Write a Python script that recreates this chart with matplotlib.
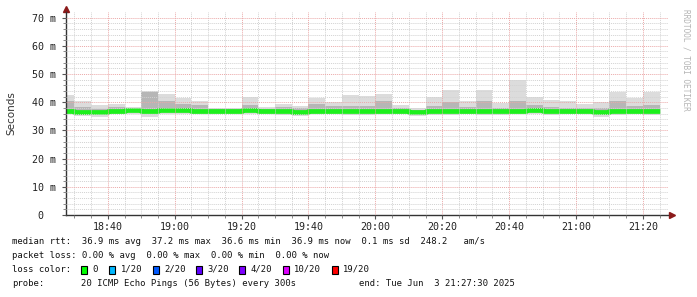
import numpy as np
import matplotlib
matplotlib.use("Agg")
import matplotlib.pyplot as plt
from matplotlib.patches import Rectangle

# bin start times in minutes after 18:00 (5 minute steps), last bin has no data yet
bin_start = list(range(25, 210, 5))

# ping statistics per 5 min bin (ms)
ping_max = [42.4, 40.3, 38.9, 39.5, 38.3, 44.1, 42.9, 41.5, 40.5, 37.9, 37.9, 41.8,
            38.2, 39.5, 38.8, 41.5, 40.1, 42.4, 42.1, 42.9, 39.1, 37.9, 41.8, 44.2,
            40.3, 44.2, 39.7, 47.9, 41.8, 40.7, 40.3, 39.5, 40.0, 43.8, 41.5, 43.8, np.nan]
ping_upper = [40.3, 38.2, 37.6, 38.2, 37.5, 43.8, 40.5, 39.4, 38.9, 37.5, 37.5, 39.0,
              37.5, 38.2, 37.8, 39.5, 38.5, 38.5, 38.8, 40.3, 38.0, 37.3, 38.5, 40.0,
              38.2, 40.3, 38.0, 40.3, 39.0, 38.3, 38.0, 37.8, 38.0, 40.3, 38.8, 39.0, np.nan]
ping_min = [36.0, 35.2, 34.6, 35.8, 36.0, 34.8, 35.8, 36.0, 36.0, 36.0, 36.0, 36.0,
            35.8, 35.5, 35.2, 35.8, 35.8, 35.5, 35.6, 35.8, 35.8, 35.2, 35.6, 35.6,
            35.8, 35.5, 35.6, 35.8, 35.8, 35.6, 35.8, 35.8, 34.6, 35.6, 35.8, 35.6, np.nan]
median = [36.8, 36.7, 36.5, 37.0, 37.1, 36.9, 37.1, 37.2, 37.0, 37.0, 37.0, 37.1,
          36.9, 36.9, 36.7, 37.0, 37.0, 36.9, 36.9, 37.0, 36.9, 36.7, 36.9, 36.9,
          36.9, 36.9, 36.8, 37.0, 37.1, 36.9, 36.8, 36.8, 36.7, 36.9, 37.0, 36.9, np.nan]

xtick_pos = [40, 60, 80, 100, 120, 140, 160, 180, 200]
xtick_lab = ["18:40", "19:00", "19:20", "19:40", "20:00", "20:20", "20:40", "21:00", "21:20"]
ytick_pos = [0, 10, 20, 30, 40, 50, 60, 70]
ytick_lab = ["0  ", "10 m", "20 m", "30 m", "40 m", "50 m", "60 m", "70 m"]

loss_labels = ["0", "1/20", "2/20", "3/20", "4/20", "10/20", "19/20"]
loss_colors = ["#00ff00", "#00b8ff", "#0059ff", "#5e00ff", "#7e00ff", "#dd00ff", "#ff0000"]

W, H = 697, 297
mono = "DejaVu Sans Mono"

fig = plt.figure(figsize=(W / 100, H / 100), dpi=100)
fig.patch.set_facecolor("white")
ax = fig.add_axes([66 / W, 82 / H, 602 / W, 203 / H])

edges = np.array(bin_start + [bin_start[-1] + 5], dtype=float)
xs = np.repeat(edges, 2)[1:-1]


def step(v):
    return np.repeat(np.asarray(v, dtype=float), 2)


ax.fill_between(xs, step(ping_min), step(ping_max), color="#dcdcdc", lw=0)
ax.fill_between(xs, step(median), step(ping_upper), color="#b6b6b6", lw=0)
ax.plot(xs, step(median), color="#1cf01c", lw=3.4, solid_capstyle="butt")

ax.set_xlim(27.5, 207.5)
ax.set_ylim(0, 72)

ax.set_xticks(xtick_pos)
ax.set_xticklabels(xtick_lab, family=mono, fontsize=7.2, color="#222222")
ax.set_xticks(np.arange(30, 210, 5), minor=True)
ax.set_yticks(ytick_pos)
ax.set_yticklabels(ytick_lab, family=mono, fontsize=7.2, color="#222222")
ax.set_yticks(np.arange(0, 72, 2), minor=True)
ax.tick_params(which="major", length=3, width=0.8, color="#555555", pad=2)
ax.tick_params(which="minor", length=2, width=0.6, color="#777777")
ax.tick_params(axis="y", which="major", pad=4)

ax.grid(which="minor", color="#d2d2d2", lw=0.7, linestyle=(0, (1, 1)))
ax.grid(which="major", color="#eba8a8", lw=0.7, linestyle=(0, (1, 1)))
ax.set_axisbelow(False)
for s in ["top", "right"]:
    ax.spines[s].set_visible(False)
for s in ["left", "bottom"]:
    ax.spines[s].set_color("#333333")
    ax.spines[s].set_linewidth(1.0)

# arrow heads on the axes
ax.plot([0], [1.015], marker="^", ms=4, color="#8b1a1a", transform=ax.transAxes, clip_on=False)
ax.plot([1.006], [0], marker=">", ms=4, color="#8b1a1a", transform=ax.transAxes, clip_on=False)

fig.text(11 / W, 1 - 113 / H, "Seconds", rotation=90, fontsize=7.5, color="#333333",
         ha="center", va="center")
fig.text(686 / W, 1 - 60 / H, "RRDTOOL / TOBI OETIKER", rotation=270, fontsize=5.6,
         color="#b4b4b4", ha="center", va="center", family=mono)


def ftext(x, y, s):
    fig.text(x / W, 1 - y / H, s, family=mono, fontsize=6.4, color="#111111",
             ha="left", va="center")


ftext(12, 241.5, "median rtt:  36.9 ms avg  37.2 ms max  36.6 ms min  36.9 ms now  0.1 ms sd  248.2   am/s")
ftext(12, 255.5, "packet loss: 0.00 % avg  0.00 % max  0.00 % min  0.00 % now")
ftext(12, 269.5, "loss color:")
ftext(12, 283.5, "probe:")
ftext(80.7, 283.5, "20 ICMP Echo Pings (56 Bytes) every 300s")
ftext(359, 283.5, "end: Tue Jun  3 21:27:30 2025")

box_x = [81, 109, 152.7, 196, 239.3, 282.7, 331.7]
for bx, lab, col in zip(box_x, loss_labels, loss_colors):
    fig.add_artist(Rectangle((bx / W, 1 - 273.5 / H), 6 / W, 7.5 / H, transform=fig.transFigure,
                             facecolor=col, edgecolor="black", lw=0.8))
    ftext(bx + 11.5, 269.5, lab)

fig.savefig("out.png", dpi=100)
